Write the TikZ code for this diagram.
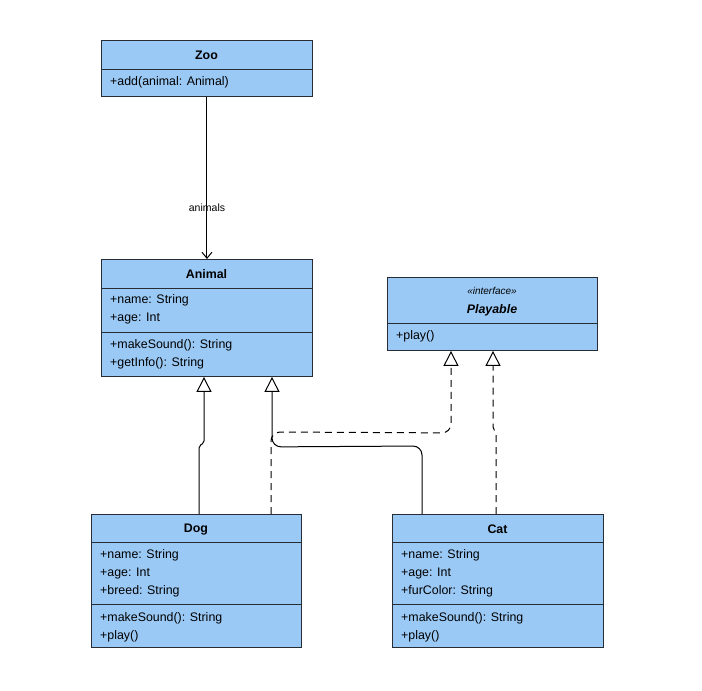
\documentclass[tikz,border=0pt]{standalone}
\usepackage{fontspec}
\setmainfont{Liberation Sans}
\usetikzlibrary{arrows.meta,calc}
\definecolor{boxfill}{RGB}{155,201,245}
\definecolor{boxline}{RGB}{40,44,52}
\tikzset{
  umlbox/.style={draw=boxline, fill=boxfill, line width=0.9pt, anchor=north west, inner sep=0pt},
  sep/.style={draw=boxline, line width=0.9pt},
  ttl/.style={font=\fontsize{12.4}{14}\selectfont\bfseries, inner sep=0pt, yshift=-1pt},
  mem/.style={font=\fontsize{12.4}{14}\selectfont, anchor=west, inner sep=0pt, yshift=-1.5pt},
  stereo/.style={font=\fontsize{10}{12}\selectfont\itshape, inner sep=0pt, yshift=-1pt},
  conn/.style={line width=1pt, black},
  gen/.style={conn, -{Triangle[open, length=15pt, width=15pt, line width=1pt]}},
  real/.style={gen, dash pattern=on 7pt off 5pt},
  assoc/.style={conn, -{Straight Barb[length=6pt, width=10pt, line width=1pt]}},
  lbl/.style={font=\fontsize{10.5}{12}\selectfont, inner sep=1pt}
}
\begin{document}
\begin{tikzpicture}[x=1pt, y=-1pt]
\useasboundingbox (0,0) rectangle (702,691);
\fill[white] (0,0) rectangle (702,691);

% Zoo
\node[umlbox, minimum width=211pt, minimum height=56pt] (zoo) at (101,40) {};
\draw[sep] (101,69) -- (312,69);
\node[ttl] (zooT) at (206.5,54.5) {Zoo};
\node[mem] (zoo1) at (110,81) {+add(animal: Animal)};

% Animal
\node[umlbox, minimum width=211pt, minimum height=117pt] (animal) at (101,259) {};
\draw[sep] (101,288) -- (312,288);
\draw[sep] (101,332) -- (312,332);
\node[ttl] (animalT) at (206.5,273.5) {Animal};
\node[mem] (animal1) at (110,299) {+name: String};
\node[mem] (animal2) at (110,317) {+age: Int};
\node[mem] (animal3) at (110,344) {+makeSound(): String};
\node[mem] (animal4) at (110,362) {+getInfo(): String};

% Playable
\node[umlbox, minimum width=210pt, minimum height=73pt] (play) at (387,277) {};
\draw[sep] (387,323) -- (597,323);
\node[stereo] (playS) at (492,290) {«interface»};
\node[ttl, font=\fontsize{12.4}{14}\selectfont\bfseries\itshape] (playT) at (492,309.5) {Playable};
\node[mem] (play1) at (396,335) {+play()};

% Dog
\node[umlbox, minimum width=210pt, minimum height=133pt] (dog) at (91,514) {};
\draw[sep] (91,542) -- (301,542);
\draw[sep] (91,604) -- (301,604);
\node[ttl] (dogT) at (196,528.5) {Dog};
\node[mem] (dog1) at (100,554) {+name: String};
\node[mem] (dog2) at (100,572) {+age: Int};
\node[mem] (dog3) at (100,590) {+breed: String};
\node[mem] (dog4) at (100,617) {+makeSound(): String};
\node[mem] (dog5) at (100,635) {+play()};

% Cat
\node[umlbox, minimum width=211pt, minimum height=133pt] (cat) at (392,514) {};
\draw[sep] (392,542) -- (603,542);
\draw[sep] (392,604) -- (603,604);
\node[ttl] (catT) at (497.5,528.5) {Cat};
\node[mem] (cat1) at (401,554) {+name: String};
\node[mem] (cat2) at (401,572) {+age: Int};
\node[mem] (cat3) at (401,590) {+furColor: String};
\node[mem] (cat4) at (401,617) {+makeSound(): String};
\node[mem] (cat5) at (401,635) {+play()};

% Zoo -> Animal
\draw[assoc] (zoo.south) -- (animal.north);
\node[lbl] (lblAnimals) at (207,208) {animals};

% Dog -> Animal (generalization)
\draw[gen, rounded corners=2pt]
  ($(dog.north west)+(108,0)$) -- ($(dog.north west)+(108,-68)$)
  -- ($(animal.south west)+(103,66)$) -- ($(animal.south west)+(103,0)$);

% Cat -> Animal (generalization)
\draw[gen, rounded corners=9pt]
  ($(cat.north west)+(30,0)$) -- ($(cat.north west)+(30,-68)$)
  -- ($(animal.south west)+(171,70)$) -- ($(animal.south west)+(171,0)$);

% Dog -> Playable (realization)
\draw[real, rounded corners=9pt]
  ($(dog.north west)+(180,0)$) -- ($(dog.north west)+(180,-82)$)
  -- ($(play.south west)+(64,82)$) -- ($(play.south west)+(64,0)$);

% Cat -> Playable (realization)
\draw[real, rounded corners=2pt]
  ($(cat.north west)+(104,0)$) -- ($(cat.north west)+(104,-82)$)
  -- ($(play.south west)+(106,78)$) -- ($(play.south west)+(106,0)$);
\end{tikzpicture}
\end{document}
